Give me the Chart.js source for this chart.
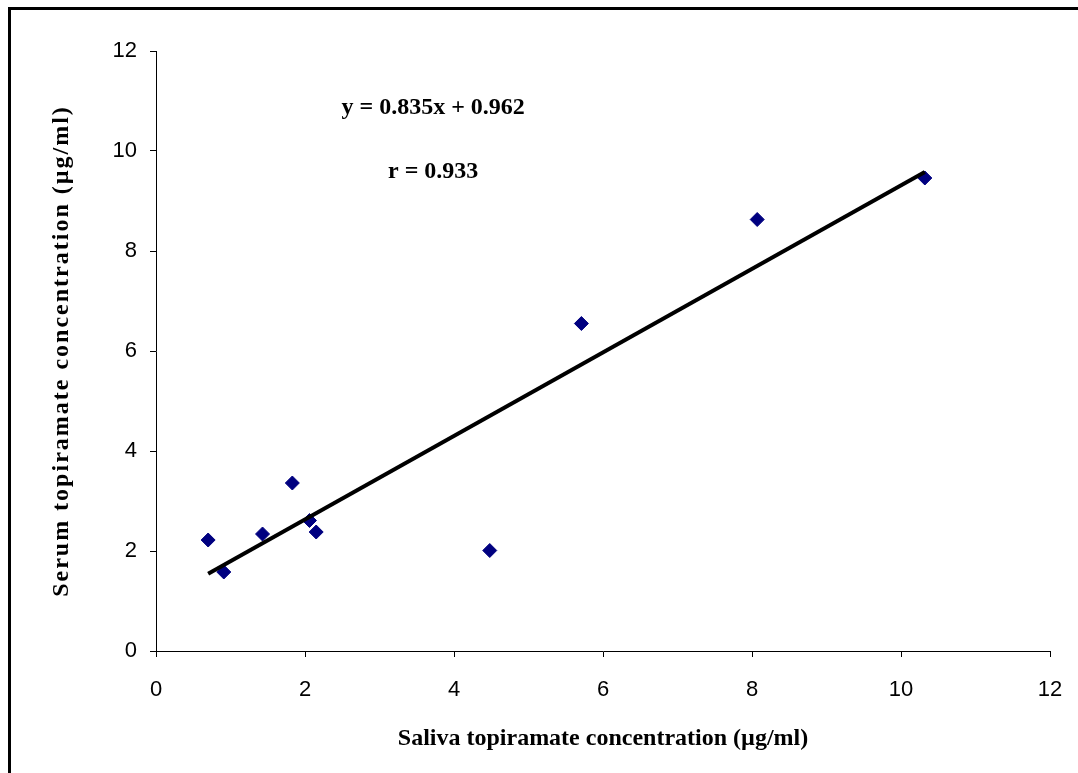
<!DOCTYPE html>
<html>
<head>
<meta charset="utf-8">
<script src="https://cdn.jsdelivr.net/npm/chart.js@4/dist/chart.umd.min.js"></script>
<style>
  html, body { margin: 0; padding: 0; background: #fff; overflow: hidden; }
  #frame {
    position: absolute; left: 8px; top: 7px; width: 1200px; height: 900px;
    border: 3px solid #000; box-sizing: border-box;
  }
  #wrap { position: absolute; left: 0; top: 0; width: 1078px; height: 773px; }
</style>
</head>
<body>
<div id="frame"></div>
<div id="wrap"><canvas id="chart" width="1078" height="773"></canvas></div>
<script>
// saliva (x) vs serum (y) topiramate, µg/ml
const salivaValues = [0.70, 0.91, 1.43, 1.83, 2.06, 2.15, 4.48, 5.71, 8.07, 10.32];
const serumValues = [2.22, 1.58, 2.34, 3.36, 2.61, 2.38, 2.01, 6.55, 8.63, 9.46];
const slope = 0.835;
const intercept = 0.962;
const equationText = "y = 0.835x + 0.962";
const rText = "r = 0.933";
const axisTicks = [0, 2, 4, 6, 8, 10, 12];

const points = salivaValues.map((x, i) => ({ x: x, y: serumValues[i] }));
const xMin = Math.min(...salivaValues);
const xMax = Math.max(...salivaValues);
const trend = [xMin, xMax].map((x) => ({ x: x, y: slope * x + intercept }));

const tickFont = { family: "'Liberation Sans', Arial", size: 22 };
const titleFamily = "'Liberation Serif', 'Times New Roman', serif";

// y title (letter-spaced) and the equation text
const textPlugin = {
  id: "textPlugin",
  afterDraw(chart) {
    const ctx = chart.ctx;
    const xs = chart.scales.x;
    const ys = chart.scales.y;
    ctx.save();
    ctx.fillStyle = "#000";
    ctx.textAlign = "center";
    ctx.textBaseline = "middle";
    ctx.font = "bold 24px " + titleFamily;
    ctx.fillText(equationText, xs.getPixelForValue(3.72), ys.getPixelForValue(10.86));
    ctx.fillText(rText, xs.getPixelForValue(3.72), ys.getPixelForValue(9.58));

    ctx.translate(62, (chart.chartArea.top + chart.chartArea.bottom) / 2);
    ctx.rotate(-Math.PI / 2);
    ctx.font = "bold 24px " + titleFamily;
    ctx.letterSpacing = "2px";
    ctx.fillText("Serum topiramate concentration (µg/ml)", 0, 0);
    ctx.restore();
  },
};

new Chart(document.getElementById("chart"), {
  type: "scatter",
  data: {
    datasets: [
      {
        label: "Trend",
        type: "line",
        data: trend,
        borderColor: "#000",
        borderWidth: 4,
        borderCapStyle: "butt",
        pointRadius: 0,
        fill: false,
      },
      {
        label: "Patients",
        data: points,
        pointStyle: "rectRot",
        pointRadius: 7,
        pointBackgroundColor: "#000080",
        pointBorderColor: "#000080",
        pointBorderWidth: 1,
      },
    ],
  },
  options: {
    responsive: false,
    animation: false,
    layout: { padding: { top: 51, right: 28, left: 0, bottom: 0 } },
    plugins: {
      legend: { display: false },
      tooltip: { enabled: false },
    },
    scales: {
      x: {
        type: "linear",
        min: 0,
        max: 12,
        afterBuildTicks: (s) => { s.ticks = axisTicks.map((v) => ({ value: v })); },
        afterFit: (s) => {
          s.height = 122;
          s.paddingRight = 0;
          s.paddingLeft = 0;
        },
        grid: { drawOnChartArea: false, drawTicks: true, tickLength: 6, color: "#000" },
        border: { color: "#000", width: 1 },
        ticks: { color: "#000", font: tickFont, padding: 20 },
        title: {
          display: true,
          text: "Saliva topiramate concentration (µg/ml)",
          color: "#000",
          font: { family: titleFamily, size: 24, weight: "bold" },
          padding: { top: 0, bottom: 20 },
        },
      },
      y: {
        type: "linear",
        min: 0,
        max: 12,
        afterBuildTicks: (s) => { s.ticks = axisTicks.map((v) => ({ value: v })); },
        afterFit: (s) => { s.width = 156; },
        grid: { drawOnChartArea: false, drawTicks: true, tickLength: 6, color: "#000" },
        border: { color: "#000", width: 1 },
        ticks: { color: "#000", font: tickFont, padding: 13 },
      },
    },
  },
  plugins: [textPlugin],
});
</script>
</body>
</html>
